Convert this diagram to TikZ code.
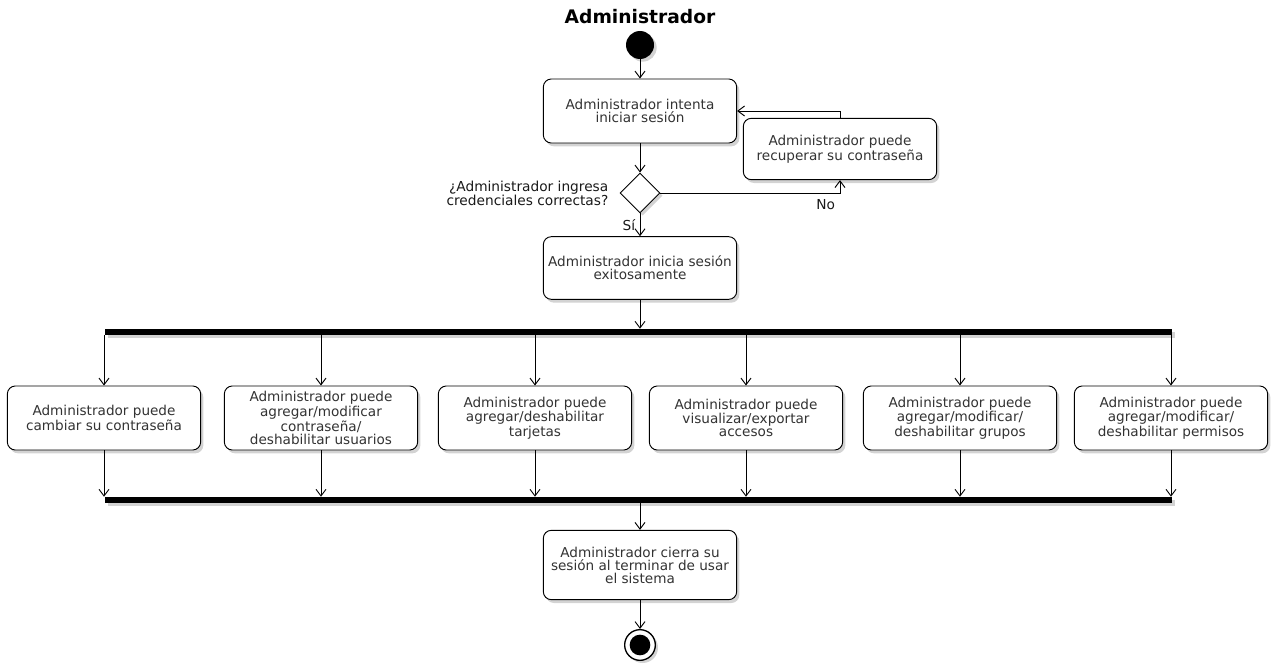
\documentclass[tikz,border=0pt]{standalone}
\usepackage{fontspec}
\setmainfont{DejaVu Sans}
\usetikzlibrary{positioning,shapes.geometric,arrows.meta,shadows}

\tikzset{
  act/.style={draw, line width=0.7pt, rounded corners=6pt, fill=white,
    minimum width=145pt, minimum height=48pt, inner sep=1pt, align=center,
    text=black!80, font=\fontsize{10.2}{9.8}\selectfont,
    drop shadow={opacity=0.35, shadow xshift=2pt, shadow yshift=-2.5pt}},
  bar/.style={fill=black, inner sep=0pt, minimum height=4.5pt, minimum width=800pt,
    drop shadow={opacity=0.35, shadow xshift=2pt, shadow yshift=-2pt}},
  flow/.style={line width=0.7pt, -{Straight Barb[length=5pt,width=7.5pt]}},
  lbl/.style={font=\fontsize{10.3}{10.5}\selectfont, text=black!90},
}

\begin{document}
\begin{tikzpicture}[x=0.75pt, y=-0.75pt]
  \useasboundingbox (0,0) rectangle (1272,667);

  \node[font=\fontsize{14}{15}\bfseries\selectfont] (title) at (640,17) {Administrador};
  \node[circle, fill=black, inner sep=0pt, minimum size=21pt,
    drop shadow={opacity=0.35, shadow xshift=2pt, shadow yshift=-2pt}] (start) at (640,45) {};

  \node[act] (login) at (640,111) {Administrador intenta\\iniciar sesión};
  \node[act, minimum height=46pt] (recover) at (840,149) {Administrador puede\\recuperar su contraseña};
  \node[diamond, draw, line width=0.7pt, fill=white, inner sep=0pt, minimum width=30pt,
    minimum height=30pt, drop shadow={opacity=0.35, shadow xshift=2pt, shadow yshift=-2pt}] (check) at (640,193) {};
  \node[lbl, align=right, anchor=east] (question) at (613,193)
    {¿Administrador ingresa\\credenciales correctas?};
  \node[act, minimum height=47pt] (success) at (640,268) {Administrador inicia sesión\\exitosamente};

  \node[bar] (fork) at (638.5,332) {};
  \node[bar] (join) at (638.5,500) {};

  \foreach \i/\x/\txt in {
      1/104/{Administrador puede\\cambiar su contraseña},
      2/321/{Administrador puede\\agregar/modificar\\contraseña/\\deshabilitar usuarios},
      3/535/{Administrador puede\\agregar/deshabilitar\\tarjetas},
      4/746/{Administrador puede\\visualizar/exportar\\accesos},
      5/960/{Administrador puede\\agregar/modificar/\\deshabilitar grupos},
      6/1171/{Administrador puede\\agregar/modificar/\\deshabilitar permisos}}
  {
    \node[act] (opt\i) at (\x,418) {\txt};
    \draw[flow] (fork.south -| opt\i) -- (opt\i);
    \draw[flow] (opt\i) -- (join.north -| opt\i);
  }

  \node[act, minimum height=52pt] (logout) at (640,565)
    {Administrador cierra su\\sesión al terminar de usar\\el sistema};
  \node[circle, draw, line width=1pt, fill=white, inner sep=0pt, minimum size=23pt,
    drop shadow={opacity=0.35, shadow xshift=2pt, shadow yshift=-2pt}] (end) at (640,645) {};
  \node[circle, fill=black, inner sep=0pt, minimum size=15.5pt] (endin) at (end) {};

  \draw[flow] (start) -- (login);
  \draw[flow] (login) -- (check);
  \draw[flow] (check.east) -| node[lbl, pos=0.5, below left, yshift=-1pt] {No} (recover.south);
  \draw[flow] (recover.north) |- (login.east);
  \draw[flow] (check) -- node[lbl, left] {Sí} (success);
  \draw[flow] (success) -- (fork.north -| success);
  \draw[flow] (join.south -| logout) -- (logout);
  \draw[flow] (logout) -- (end);
\end{tikzpicture}
\end{document}
